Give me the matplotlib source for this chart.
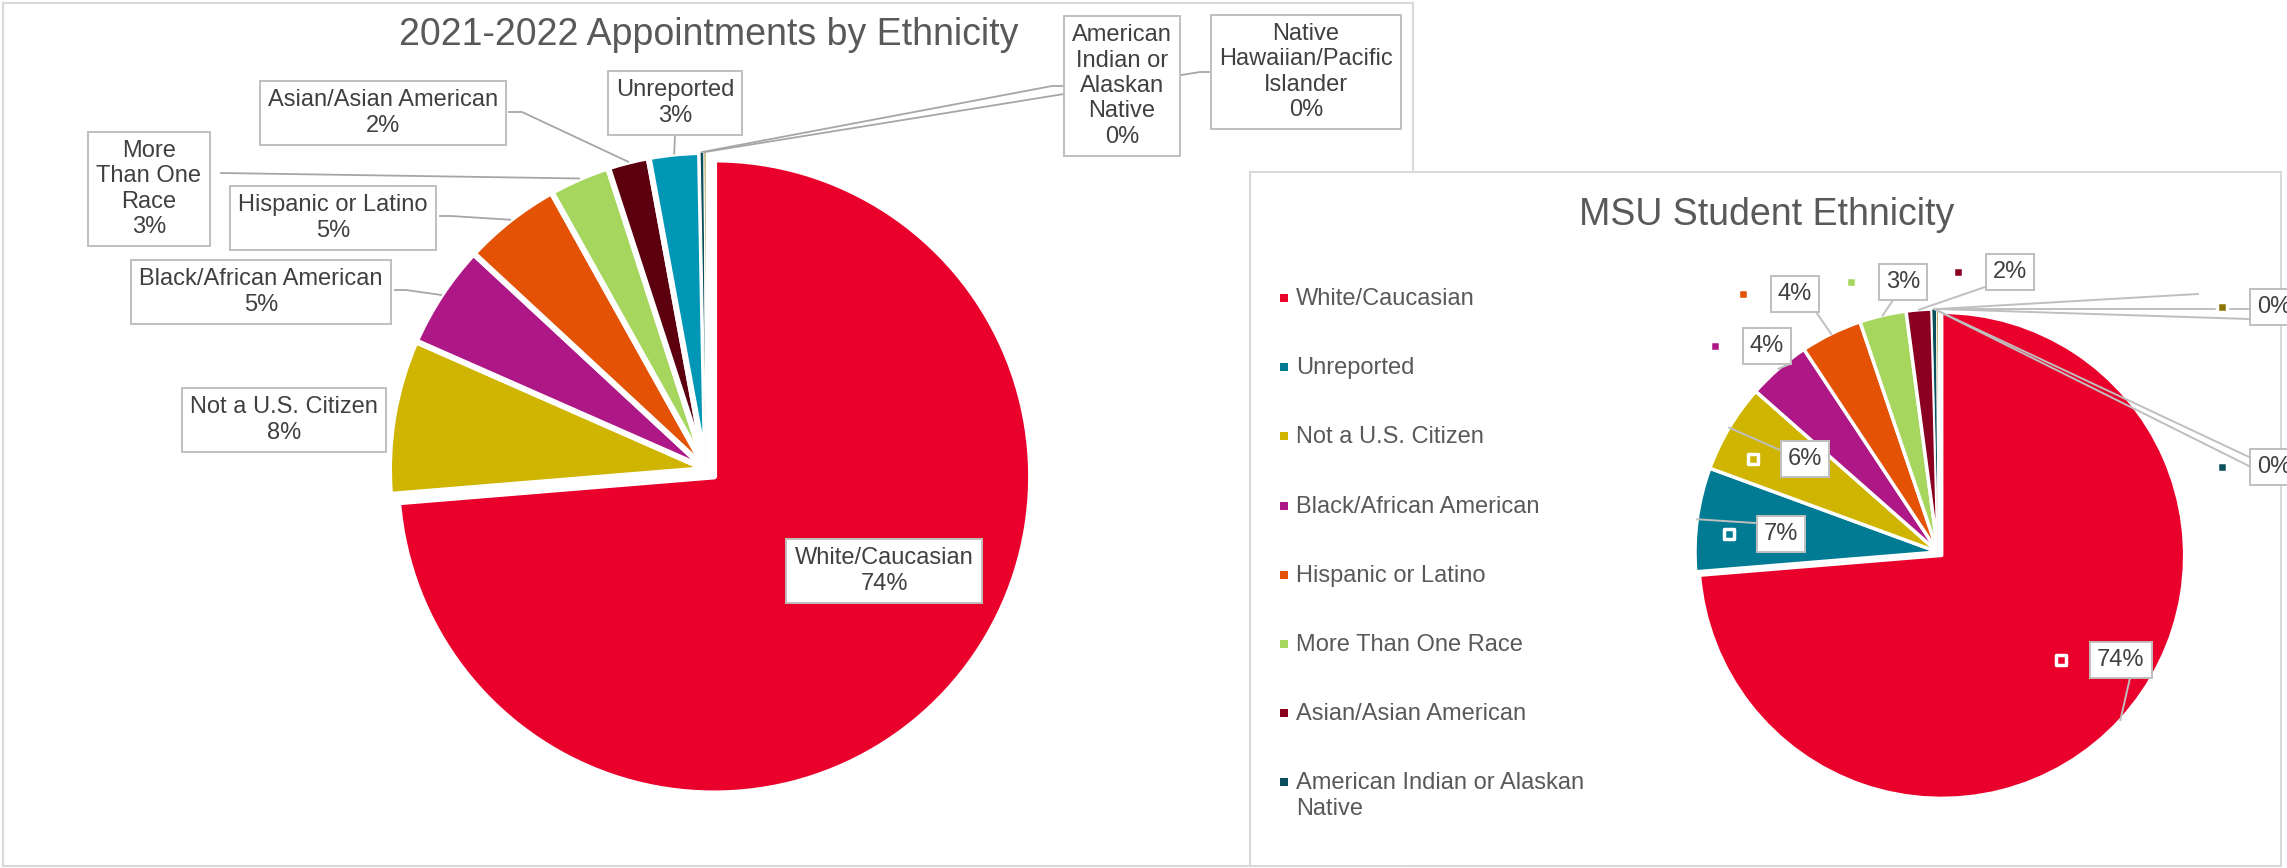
import math
import textwrap
import matplotlib
matplotlib.use("Agg")
import matplotlib.pyplot as plt
from matplotlib.patches import Rectangle

plt.rcParams['font.family'] = ['Liberation Sans', 'DejaVu Sans']

W, H = 2287, 868

# appointments by ethnicity (left chart), in percent
appt_names = ["White/Caucasian", "Not a U.S. Citizen", "Black/African American",
              "Hispanic or Latino", "More Than One Race", "Asian/Asian American",
              "Unreported", "American Indian or Alaskan Native",
              "Native Hawaiian/Pacific Islander"]
appt_values = [73.7, 7.9, 5.3, 5.0, 3.1, 2.1, 2.6, 0.2, 0.1]
appt_colors = ["#E9002B", "#CFB500", "#AD1786", "#E35205", "#A6D65E",
               "#5C0010", "#0096B6", "#0B4F5C", "#8B7500"]

# student body by ethnicity (right chart), in percent
student_names = ["White/Caucasian", "Unreported", "Not a U.S. Citizen",
                 "Black/African American", "Hispanic or Latino", "More Than One Race",
                 "Asian/Asian American", "American Indian or Alaskan Native",
                 "Native Hawaiian/Pacific Islander"]
student_values = [73.7, 6.9, 5.9, 4.2, 4.1, 3.1, 1.7, 0.3, 0.1]
student_colors = ["#E9002B", "#007B93", "#CFB500", "#AD1786", "#E35205",
                  "#A6D65E", "#8A0020", "#0B4F5C", "#8B7500"]

TEXT = '#404040'
TITLE = '#595959'
FRAME = '#D9D9D9'
BOX = '#BFBFBF'
LEADER = '#A6A6A6'
FS = 17


def pct_labels(vals):
    tot = sum(vals)
    return [f"{round(v / tot * 100)}%" for v in vals]


def edge_point(w):
    mid = math.radians((w.theta1 + w.theta2) / 2)
    return w.center[0] + w.r * math.cos(mid), w.center[1] + w.r * math.sin(mid)


fig = plt.figure(figsize=(W / 100, H / 100), dpi=100)
ax = fig.add_axes([0, 0, 1, 1])

# chart frames (right one sits on top of the left one)
ax.add_patch(Rectangle((3, 3), 1410, 863, fc='white', ec=FRAME, lw=1.5, zorder=0))
right_frame = Rectangle((1250, 172), 1031, 694, fc='white', ec=FRAME, lw=1.5, zorder=1)
ax.add_patch(right_frame)

# ---- left pie ----
left_wedges, _ = ax.pie(appt_values, colors=appt_colors, radius=317, center=(706, 469),
                        startangle=-90, counterclock=True, labeldistance=None,
                        explode=[11] + [0] * 8,
                        wedgeprops=dict(edgecolor='white', linewidth=4.3, joinstyle='round'))
for w in left_wedges:
    w.set_zorder(2)
for w in left_wedges[-2:]:
    w.set_linewidth(0.8)

left_pos = [(884, 571), (284, 420), (261, 292), (333, 218), (149, 189),
            (383, 113), (675, 103), (1122, 86), (1306, 72)]
left_wrap = [40, 40, 40, 40, 8, 40, 40, 9, 16]
left_leaders = [None, None, [(395, 290), (406, 290)], [(440, 216), (451, 216)],
                [(221, 173)], [(509, 112), (522, 112)], [(675, 135)],
                [(1063, 86), (1052, 86)], [(1209, 72), (1200, 72)]]

for w, name, p, pos, wrap, lead in zip(left_wedges, appt_names, pct_labels(appt_values),
                                       left_pos, left_wrap, left_leaders):
    txt = "\n".join(textwrap.wrap(name, wrap) + [p])
    ax.text(pos[0], pos[1], txt, ha='center', va='center', fontsize=FS, color=TEXT,
            linespacing=1.2, zorder=6,
            bbox=dict(boxstyle='square,pad=0.35', fc='white', ec=BOX, lw=1.4))
    if lead:
        pts = lead + [edge_point(w)]
        ax.plot([q[0] for q in pts], [q[1] for q in pts], color=LEADER, lw=1.3, zorder=4)

ax.text(709, 45, "2021-2022 Appointments by Ethnicity", ha='center', va='baseline',
        fontsize=27, color=TITLE, zorder=6)

# ---- right pie ----
right_wedges, _ = ax.pie(student_values, colors=student_colors, radius=243,
                         center=(1938, 552), startangle=-90, counterclock=True,
                         labeldistance=None, explode=[5] + [0] * 8,
                         wedgeprops=dict(edgecolor='white', linewidth=2.5, joinstyle='round'))
for w in right_wedges:
    w.set_zorder(2)
for w in right_wedges[-2:]:
    w.set_linewidth(0.6)

right_pos = [(2121, 660), (1781, 534), (1805, 459), (1767, 346), (1795, 294),
             (1903, 282), (2010, 272), (2274, 467), (2274, 307)]
right_leaders = [[(2130, 678)], [(1755, 523)], [(1780, 450)], [(1790, 364)],
                 [(1816, 312)], [(1893, 300)], [(1985, 287)],
                 [(2249, 457), (2249, 466)], [(2249, 309), (2249, 319), (2198, 294)]]

for w, col, p, pos, lead in zip(right_wedges, student_colors, pct_labels(student_values),
                                right_pos, right_leaders):
    ex, ey = edge_point(w)
    for a in lead:
        ln, = ax.plot([a[0], ex], [a[1], ey], color=BOX, lw=1.4, zorder=4)
        ln.set_clip_path(right_frame)
    t = ax.text(pos[0], pos[1], p, ha='center', va='center', fontsize=FS, color=TEXT,
                zorder=6, bbox=dict(boxstyle='square,pad=0.3', fc='white', ec=BOX, lw=1.4))
    t.set_clip_path(right_frame)
    mx = pos[0] - 52 - 8 * (len(p) - 2)
    ax.scatter([mx], [pos[1]], marker='s', s=47, c=col, edgecolors='white',
               linewidths=2.5, zorder=5)

ax.text(1767, 225, "MSU Student Ethnicity", ha='center', va='baseline',
        fontsize=27, color=TITLE, zorder=6)

# legend, cut off after eight entries by the chart area
legend_top, legend_step = 298, 69.2
for i, (name, col) in enumerate(zip(student_names[:8], student_colors)):
    y = legend_top + i * legend_step
    ax.scatter([1284], [y], marker='s', s=29, c=col, linewidths=0, zorder=5)
    ax.text(1296, y - 10, "\n".join(textwrap.wrap(name, 26)), ha='left', va='top',
            fontsize=FS, color=TITLE, linespacing=1.2, zorder=5)

ax.set_xlim(0, W)
ax.set_ylim(H, 0)
ax.set_aspect('equal')
ax.axis('off')

fig.savefig("out.png", dpi=100, facecolor='white')
